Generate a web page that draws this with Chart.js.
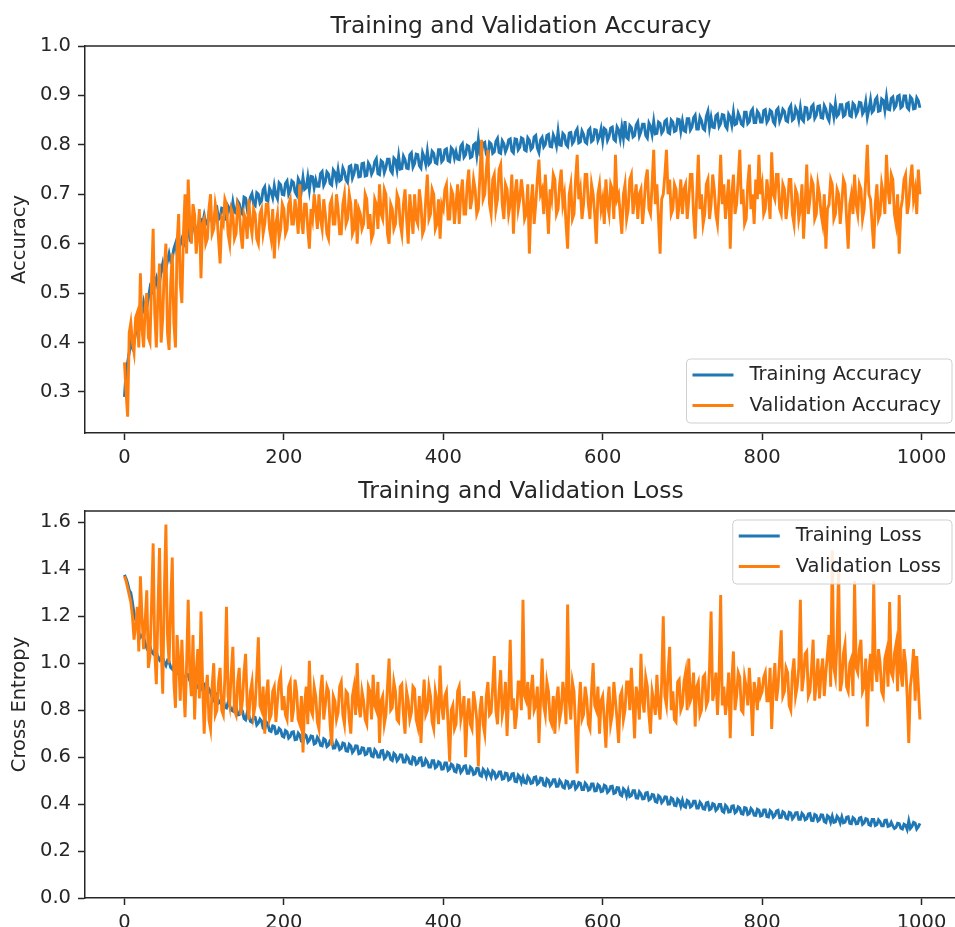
<!DOCTYPE html>
<html>
<head>
<meta charset="utf-8">
<title>Training and Validation Accuracy / Loss</title>
<script src="https://cdn.jsdelivr.net/npm/chart.js@4.4.1/dist/chart.umd.min.js"></script>
<style>
  body { margin: 0; background: #fff; }
  canvas { display: block; }
</style>
</head>
<body>
<canvas id="acc-chart" width="955" height="470"></canvas>
<canvas id="loss-chart" width="955" height="457"></canvas>
<script>
// values, one every 2 epochs (0, 2, ... 998), 50 per row = 100 epochs
const EPOCH_STEP = 2;

const trainAcc = [
  0.29, 0.34, 0.36, 0.38, 0.40, 0.39, 0.40, 0.42, 0.44, 0.43, 0.44, 0.46, 0.48, 0.46, 0.47, 0.49, 0.51, 0.50, 0.50, 0.52, 0.53, 0.51, 0.52, 0.545, 0.56, 0.54, 0.55, 0.565, 0.58, 0.565, 0.57, 0.59, 0.60, 0.58, 0.585, 0.60, 0.61, 0.595, 0.60, 0.62, 0.63, 0.61, 0.615, 0.635, 0.64, 0.625, 0.628, 0.645, 0.648, 0.64,
  0.657, 0.640, 0.639, 0.661, 0.656, 0.644, 0.639, 0.668, 0.672, 0.649, 0.653, 0.672, 0.671, 0.651, 0.649, 0.676, 0.670, 0.660, 0.684, 0.664, 0.662, 0.686, 0.681, 0.664, 0.660, 0.694, 0.692, 0.670, 0.679, 0.694, 0.701, 0.680, 0.677, 0.703, 0.700, 0.682, 0.687, 0.709, 0.715, 0.688, 0.686, 0.712, 0.705, 0.693, 0.717, 0.699, 0.691, 0.723, 0.719, 0.700,
  0.699, 0.722, 0.727, 0.700, 0.708, 0.727, 0.724, 0.705, 0.699, 0.731, 0.724, 0.708, 0.734, 0.710, 0.713, 0.735, 0.709, 0.736, 0.735, 0.713, 0.729, 0.716, 0.716, 0.742, 0.746, 0.718, 0.725, 0.745, 0.741, 0.722, 0.719, 0.749, 0.744, 0.726, 0.749, 0.727, 0.730, 0.753, 0.745, 0.729, 0.724, 0.756, 0.758, 0.733, 0.742, 0.759, 0.758, 0.735, 0.736, 0.762,
  0.763, 0.737, 0.738, 0.763, 0.757, 0.741, 0.748, 0.766, 0.772, 0.742, 0.740, 0.768, 0.765, 0.744, 0.754, 0.771, 0.771, 0.748, 0.743, 0.773, 0.769, 0.750, 0.777, 0.751, 0.752, 0.777, 0.770, 0.753, 0.752, 0.780, 0.784, 0.755, 0.762, 0.781, 0.780, 0.758, 0.753, 0.784, 0.775, 0.761, 0.787, 0.761, 0.765, 0.787, 0.783, 0.764, 0.762, 0.790, 0.790, 0.766,
  0.770, 0.790, 0.792, 0.768, 0.766, 0.794, 0.790, 0.773, 0.786, 0.771, 0.770, 0.797, 0.802, 0.775, 0.780, 0.799, 0.797, 0.774, 0.776, 0.800, 0.803, 0.779, 0.810, 0.782, 0.785, 0.803, 0.805, 0.781, 0.775, 0.805, 0.802, 0.783, 0.786, 0.807, 0.813, 0.785, 0.783, 0.808, 0.802, 0.786, 0.794, 0.810, 0.812, 0.788, 0.784, 0.812, 0.811, 0.790, 0.795, 0.814,
  0.812, 0.790, 0.788, 0.814, 0.809, 0.791, 0.795, 0.816, 0.819, 0.794, 0.785, 0.810, 0.815, 0.796, 0.801, 0.819, 0.821, 0.797, 0.796, 0.820, 0.812, 0.798, 0.827, 0.800, 0.799, 0.823, 0.819, 0.801, 0.797, 0.824, 0.825, 0.803, 0.808, 0.826, 0.832, 0.804, 0.806, 0.828, 0.821, 0.806, 0.803, 0.829, 0.833, 0.807, 0.810, 0.831, 0.830, 0.809, 0.817, 0.832,
  0.808, 0.833, 0.830, 0.809, 0.817, 0.834, 0.836, 0.811, 0.808, 0.836, 0.830, 0.812, 0.836, 0.814, 0.848, 0.815, 0.812, 0.839, 0.835, 0.816, 0.819, 0.840, 0.846, 0.818, 0.827, 0.842, 0.842, 0.819, 0.814, 0.844, 0.837, 0.821, 0.847, 0.822, 0.823, 0.846, 0.843, 0.824, 0.829, 0.848, 0.851, 0.825, 0.823, 0.850, 0.846, 0.827, 0.829, 0.852, 0.851, 0.828,
  0.848, 0.829, 0.827, 0.853, 0.853, 0.830, 0.836, 0.855, 0.860, 0.832, 0.832, 0.856, 0.849, 0.833, 0.830, 0.858, 0.868, 0.835, 0.855, 0.836, 0.835, 0.859, 0.862, 0.837, 0.843, 0.861, 0.860, 0.838, 0.833, 0.862, 0.856, 0.840, 0.866, 0.841, 0.843, 0.864, 0.856, 0.842, 0.839, 0.866, 0.866, 0.843, 0.847, 0.867, 0.872, 0.845, 0.845, 0.868, 0.863, 0.846,
  0.846, 0.869, 0.871, 0.846, 0.852, 0.870, 0.867, 0.847, 0.842, 0.870, 0.874, 0.848, 0.857, 0.872, 0.868, 0.849, 0.847, 0.873, 0.879, 0.850, 0.853, 0.874, 0.867, 0.851, 0.875, 0.852, 0.848, 0.876, 0.875, 0.853, 0.856, 0.877, 0.881, 0.854, 0.860, 0.878, 0.879, 0.855, 0.854, 0.879, 0.872, 0.856, 0.849, 0.880, 0.876, 0.857, 0.883, 0.858, 0.862, 0.881,
  0.881, 0.858, 0.861, 0.883, 0.885, 0.859, 0.857, 0.884, 0.880, 0.861, 0.868, 0.886, 0.885, 0.863, 0.869, 0.887, 0.856, 0.872, 0.891, 0.866, 0.870, 0.891, 0.896, 0.868, 0.869, 0.893, 0.890, 0.870, 0.897, 0.872, 0.871, 0.894, 0.897, 0.874, 0.879, 0.898, 0.900, 0.875, 0.878, 0.899, 0.899, 0.876, 0.872, 0.897, 0.893, 0.873, 0.874, 0.895, 0.889, 0.875
];
const valAcc = [
  0.36, 0.30, 0.25, 0.42, 0.44, 0.40, 0.38, 0.45, 0.46, 0.39, 0.54, 0.43, 0.39, 0.47, 0.50, 0.41, 0.40, 0.52, 0.63, 0.46, 0.39, 0.50, 0.56, 0.40, 0.45, 0.55, 0.60, 0.42, 0.385, 0.52, 0.58, 0.44, 0.39, 0.60, 0.66, 0.52, 0.48, 0.62, 0.70, 0.58, 0.73, 0.64, 0.60, 0.68, 0.66, 0.58, 0.62, 0.67, 0.53, 0.64,
  0.65, 0.60, 0.61, 0.67, 0.70, 0.62, 0.63, 0.68, 0.66, 0.61, 0.56, 0.65, 0.64, 0.69, 0.68, 0.62, 0.60, 0.67, 0.66, 0.61, 0.62, 0.68, 0.67, 0.62, 0.59, 0.66, 0.65, 0.61, 0.69, 0.64, 0.62, 0.67, 0.66, 0.61, 0.60, 0.66, 0.67, 0.62, 0.64, 0.68, 0.68, 0.63, 0.61, 0.67, 0.57, 0.64, 0.66, 0.61, 0.63, 0.68,
  0.67, 0.62, 0.63, 0.68, 0.69, 0.64, 0.64, 0.69, 0.66, 0.62, 0.72, 0.65, 0.62, 0.68, 0.68, 0.63, 0.59, 0.67, 0.65, 0.70, 0.67, 0.63, 0.70, 0.65, 0.63, 0.69, 0.66, 0.62, 0.61, 0.68, 0.69, 0.64, 0.64, 0.70, 0.67, 0.62, 0.62, 0.68, 0.70, 0.64, 0.65, 0.70, 0.68, 0.62, 0.63, 0.69, 0.60, 0.67, 0.66, 0.63,
  0.64, 0.70, 0.69, 0.63, 0.66, 0.61, 0.62, 0.69, 0.68, 0.63, 0.72, 0.66, 0.65, 0.71, 0.70, 0.62, 0.60, 0.68, 0.67, 0.63, 0.64, 0.70, 0.69, 0.64, 0.62, 0.68, 0.71, 0.65, 0.60, 0.70, 0.66, 0.62, 0.70, 0.65, 0.64, 0.71, 0.68, 0.62, 0.63, 0.69, 0.74, 0.65, 0.66, 0.71, 0.70, 0.63, 0.64, 0.69, 0.61, 0.68,
  0.67, 0.71, 0.72, 0.65, 0.65, 0.71, 0.70, 0.64, 0.68, 0.72, 0.64, 0.70, 0.73, 0.66, 0.66, 0.72, 0.75, 0.67, 0.69, 0.73, 0.71, 0.66, 0.67, 0.74, 0.81, 0.69, 0.70, 0.75, 0.79, 0.68, 0.66, 0.73, 0.74, 0.67, 0.69, 0.75, 0.76, 0.68, 0.65, 0.72, 0.71, 0.66, 0.68, 0.74, 0.62, 0.70, 0.73, 0.67, 0.69, 0.73,
  0.70, 0.65, 0.66, 0.72, 0.58, 0.68, 0.72, 0.64, 0.68, 0.73, 0.77, 0.70, 0.71, 0.66, 0.74, 0.68, 0.62, 0.71, 0.69, 0.74, 0.73, 0.66, 0.67, 0.72, 0.75, 0.68, 0.70, 0.64, 0.59, 0.70, 0.72, 0.65, 0.66, 0.73, 0.78, 0.69, 0.71, 0.65, 0.68, 0.74, 0.74, 0.68, 0.65, 0.72, 0.70, 0.66, 0.60, 0.70, 0.72, 0.67,
  0.69, 0.64, 0.73, 0.68, 0.66, 0.72, 0.71, 0.65, 0.78, 0.69, 0.70, 0.66, 0.62, 0.70, 0.72, 0.65, 0.67, 0.73, 0.74, 0.66, 0.69, 0.72, 0.65, 0.70, 0.71, 0.64, 0.68, 0.73, 0.75, 0.67, 0.66, 0.72, 0.79, 0.68, 0.72, 0.65, 0.58, 0.69, 0.70, 0.74, 0.79, 0.70, 0.73, 0.66, 0.67, 0.72, 0.71, 0.65, 0.68, 0.73,
  0.66, 0.71, 0.72, 0.65, 0.69, 0.74, 0.74, 0.66, 0.61, 0.70, 0.78, 0.67, 0.70, 0.64, 0.66, 0.72, 0.73, 0.65, 0.68, 0.74, 0.71, 0.66, 0.64, 0.70, 0.78, 0.68, 0.72, 0.65, 0.69, 0.73, 0.59, 0.70, 0.74, 0.66, 0.68, 0.73, 0.79, 0.68, 0.71, 0.64, 0.65, 0.72, 0.76, 0.67, 0.70, 0.64, 0.73, 0.69, 0.78, 0.70,
  0.72, 0.66, 0.67, 0.73, 0.70, 0.65, 0.785, 0.70, 0.69, 0.74, 0.74, 0.67, 0.66, 0.72, 0.71, 0.65, 0.68, 0.73, 0.73, 0.66, 0.64, 0.71, 0.70, 0.65, 0.67, 0.72, 0.61, 0.68, 0.76, 0.66, 0.69, 0.73, 0.72, 0.65, 0.66, 0.72, 0.70, 0.66, 0.64, 0.70, 0.59, 0.67, 0.68, 0.73, 0.72, 0.65, 0.66, 0.71, 0.70, 0.64,
  0.68, 0.73, 0.72, 0.65, 0.59, 0.68, 0.70, 0.66, 0.74, 0.68, 0.66, 0.72, 0.71, 0.65, 0.67, 0.73, 0.80, 0.70, 0.69, 0.64, 0.59, 0.68, 0.72, 0.65, 0.66, 0.72, 0.70, 0.66, 0.78, 0.71, 0.68, 0.74, 0.73, 0.66, 0.64, 0.70, 0.58, 0.67, 0.69, 0.73, 0.74, 0.66, 0.68, 0.73, 0.76, 0.69, 0.71, 0.66, 0.75, 0.70
];
const trainLoss = [
  1.376, 1.36, 1.34, 1.31, 1.30, 1.26, 1.21, 1.185, 1.175, 1.13, 1.11, 1.118, 1.11, 1.085, 1.065, 1.075, 1.072, 1.048, 1.04, 1.058, 1.05, 1.022, 1.013, 1.03, 1.025, 1.002, 0.99, 1.012, 1.007, 0.982, 0.975, 0.992, 0.99, 0.962, 0.953, 0.972, 0.965, 0.94, 0.931, 0.954, 0.952, 0.925, 0.92, 0.936, 0.935, 0.905, 0.898, 0.914, 0.91, 0.888,
  0.902, 0.872, 0.865, 0.890, 0.878, 0.852, 0.842, 0.872, 0.864, 0.830, 0.834, 0.850, 0.846, 0.812, 0.809, 0.833, 0.820, 0.800, 0.796, 0.822, 0.818, 0.780, 0.781, 0.803, 0.796, 0.765, 0.759, 0.789, 0.777, 0.752, 0.748, 0.773, 0.770, 0.737, 0.745, 0.762, 0.753, 0.723, 0.718, 0.749, 0.739, 0.712, 0.709, 0.733, 0.731, 0.700, 0.702, 0.722, 0.715, 0.690,
  0.686, 0.713, 0.708, 0.681, 0.688, 0.706, 0.708, 0.674, 0.676, 0.702, 0.693, 0.668, 0.665, 0.697, 0.692, 0.664, 0.672, 0.690, 0.688, 0.656, 0.660, 0.684, 0.673, 0.650, 0.648, 0.678, 0.673, 0.645, 0.651, 0.671, 0.673, 0.638, 0.639, 0.666, 0.654, 0.632, 0.637, 0.660, 0.657, 0.627, 0.625, 0.654, 0.647, 0.620, 0.629, 0.648, 0.647, 0.614, 0.617, 0.640,
  0.638, 0.610, 0.613, 0.636, 0.636, 0.605, 0.602, 0.631, 0.622, 0.600, 0.600, 0.626, 0.628, 0.594, 0.601, 0.621, 0.616, 0.590, 0.585, 0.616, 0.609, 0.584, 0.593, 0.610, 0.609, 0.579, 0.579, 0.605, 0.596, 0.574, 0.571, 0.600, 0.597, 0.569, 0.574, 0.595, 0.597, 0.564, 0.566, 0.590, 0.580, 0.558, 0.558, 0.585, 0.585, 0.554, 0.560, 0.580, 0.575, 0.549,
  0.550, 0.575, 0.575, 0.544, 0.550, 0.570, 0.565, 0.540, 0.537, 0.566, 0.563, 0.535, 0.544, 0.561, 0.563, 0.531, 0.531, 0.557, 0.550, 0.526, 0.529, 0.552, 0.551, 0.522, 0.518, 0.548, 0.539, 0.517, 0.542, 0.529, 0.514, 0.541, 0.535, 0.511, 0.518, 0.537, 0.537, 0.506, 0.508, 0.532, 0.530, 0.502, 0.507, 0.528, 0.530, 0.497, 0.495, 0.523, 0.515, 0.493,
  0.515, 0.491, 0.489, 0.517, 0.508, 0.488, 0.490, 0.514, 0.516, 0.485, 0.491, 0.511, 0.509, 0.481, 0.478, 0.507, 0.501, 0.478, 0.486, 0.504, 0.504, 0.475, 0.476, 0.501, 0.491, 0.472, 0.468, 0.498, 0.495, 0.469, 0.473, 0.495, 0.496, 0.465, 0.473, 0.492, 0.489, 0.462, 0.462, 0.489, 0.481, 0.459, 0.463, 0.486, 0.486, 0.456, 0.457, 0.483, 0.477, 0.453,
  0.455, 0.480, 0.476, 0.450, 0.457, 0.475, 0.476, 0.445, 0.448, 0.470, 0.469, 0.440, 0.435, 0.465, 0.458, 0.434, 0.459, 0.432, 0.436, 0.457, 0.457, 0.426, 0.425, 0.452, 0.443, 0.422, 0.423, 0.447, 0.449, 0.417, 0.422, 0.441, 0.439, 0.411, 0.408, 0.436, 0.430, 0.406, 0.414, 0.431, 0.430, 0.400, 0.401, 0.426, 0.421, 0.395, 0.393, 0.421, 0.414, 0.391,
  0.416, 0.390, 0.386, 0.415, 0.410, 0.387, 0.392, 0.412, 0.412, 0.383, 0.383, 0.408, 0.399, 0.380, 0.378, 0.405, 0.407, 0.376, 0.380, 0.402, 0.398, 0.373, 0.380, 0.398, 0.398, 0.370, 0.365, 0.395, 0.388, 0.366, 0.367, 0.391, 0.393, 0.363, 0.369, 0.388, 0.383, 0.359, 0.357, 0.385, 0.383, 0.356, 0.360, 0.381, 0.373, 0.353, 0.352, 0.378, 0.374, 0.349,
  0.352, 0.375, 0.375, 0.347, 0.345, 0.372, 0.365, 0.344, 0.351, 0.370, 0.373, 0.342, 0.343, 0.368, 0.363, 0.340, 0.337, 0.365, 0.362, 0.337, 0.346, 0.363, 0.364, 0.335, 0.335, 0.361, 0.353, 0.333, 0.337, 0.358, 0.360, 0.330, 0.329, 0.356, 0.352, 0.328, 0.334, 0.354, 0.353, 0.326, 0.322, 0.351, 0.345, 0.323, 0.348, 0.322, 0.324, 0.348, 0.339, 0.320,
  0.345, 0.320, 0.323, 0.344, 0.346, 0.318, 0.316, 0.342, 0.336, 0.316, 0.317, 0.340, 0.343, 0.314, 0.320, 0.338, 0.335, 0.312, 0.309, 0.335, 0.335, 0.309, 0.313, 0.333, 0.325, 0.307, 0.307, 0.331, 0.332, 0.305, 0.307, 0.322, 0.307, 0.296, 0.301, 0.318, 0.316, 0.297, 0.294, 0.314, 0.310, 0.292, 0.328, 0.296, 0.304, 0.322, 0.318, 0.294, 0.303, 0.318
];
const valLoss = [
  1.37, 1.35, 1.32, 1.29, 1.26, 1.20, 1.10, 1.16, 1.24, 1.05, 1.37, 1.20, 1.06, 1.18, 1.31, 0.98, 1.03, 1.25, 1.51, 1.05, 0.91, 1.22, 1.49, 1.08, 0.87, 1.30, 1.59, 1.12, 1.00, 1.25, 1.45, 0.92, 0.81, 1.12, 1.02, 0.84, 1.10, 0.92, 0.77, 1.00, 1.27, 0.95, 0.86, 1.12, 0.76, 0.96, 1.06, 0.85, 1.22, 0.92,
  0.70, 0.88, 0.95, 0.76, 0.72, 0.90, 1.00, 0.78, 0.80, 0.92, 0.98, 0.80, 0.78, 0.94, 1.24, 0.86, 0.82, 0.96, 1.07, 0.80, 0.78, 0.92, 0.98, 0.78, 0.84, 0.96, 1.04, 0.82, 0.76, 0.88, 0.92, 0.78, 0.82, 0.95, 1.11, 0.82, 0.80, 0.90, 0.70, 0.86, 0.93, 0.76, 0.78, 0.88, 0.90, 0.75, 0.84, 0.92, 0.95, 0.80,
  0.86, 0.78, 0.76, 0.90, 0.92, 0.75, 0.80, 0.93, 0.88, 0.76, 0.74, 0.86, 0.62, 0.82, 0.90, 0.74, 1.01, 0.80, 0.78, 0.90, 0.86, 0.75, 0.72, 0.88, 0.95, 0.76, 0.82, 0.90, 0.88, 0.74, 0.65, 0.86, 0.84, 0.76, 0.79, 0.90, 0.92, 0.78, 0.74, 0.88, 0.87, 0.76, 0.70, 0.86, 0.90, 0.78, 1.00, 0.82, 0.77, 0.88,
  0.84, 0.76, 0.74, 0.90, 0.88, 0.76, 0.95, 0.82, 0.80, 0.92, 0.66, 0.84, 0.86, 0.74, 0.78, 0.90, 1.02, 0.80, 0.81, 0.92, 0.88, 0.76, 0.75, 0.90, 0.91, 0.78, 0.70, 0.88, 0.84, 0.76, 0.79, 0.90, 0.89, 0.76, 0.73, 0.86, 0.66, 0.82, 0.93, 0.78, 0.80, 0.90, 0.86, 0.75, 0.72, 0.88, 0.84, 0.74, 0.99, 0.82,
  0.76, 0.86, 0.88, 0.74, 0.58, 0.80, 0.82, 0.72, 0.74, 0.88, 0.90, 0.76, 0.80, 0.86, 0.60, 0.78, 0.85, 0.74, 0.72, 0.88, 0.83, 0.76, 0.56, 0.80, 0.86, 0.74, 0.70, 0.86, 0.92, 0.78, 0.79, 0.90, 1.03, 0.80, 0.74, 0.88, 0.97, 0.78, 0.82, 0.92, 0.69, 0.86, 1.10, 0.80, 0.85, 0.72, 0.78, 0.92, 0.92, 0.80,
  1.27, 0.86, 0.84, 0.92, 0.76, 0.88, 0.95, 0.80, 0.82, 0.90, 0.66, 0.84, 1.02, 0.82, 0.78, 0.92, 0.88, 0.76, 0.74, 0.86, 0.70, 0.84, 0.90, 0.76, 0.80, 0.92, 0.86, 0.74, 1.25, 0.84, 0.76, 0.92, 0.88, 0.72, 0.53, 0.80, 0.92, 0.76, 0.78, 0.90, 0.85, 0.74, 0.72, 0.88, 1.00, 0.82, 0.80, 0.90, 0.70, 0.84,
  0.86, 0.76, 0.64, 0.82, 0.90, 0.74, 0.78, 0.92, 0.84, 0.76, 0.66, 0.86, 0.88, 0.76, 0.80, 0.92, 0.92, 0.80, 0.98, 0.84, 0.68, 0.90, 0.86, 0.76, 1.04, 0.84, 0.79, 0.94, 0.90, 0.78, 0.70, 0.88, 0.84, 0.78, 0.95, 0.82, 0.76, 0.92, 1.20, 0.86, 0.82, 0.96, 1.07, 0.80, 0.88, 0.76, 0.75, 0.92, 0.93, 0.80,
  0.82, 0.92, 0.96, 0.80, 1.02, 0.84, 0.86, 0.96, 0.73, 0.90, 0.92, 0.78, 0.80, 0.94, 0.95, 0.82, 0.84, 0.98, 1.22, 0.84, 0.88, 0.96, 0.78, 0.94, 1.29, 0.82, 0.90, 0.78, 0.84, 0.96, 0.68, 0.92, 1.05, 0.80, 0.86, 0.96, 0.94, 0.80, 0.79, 0.94, 0.90, 0.82, 0.98, 0.86, 0.69, 0.92, 0.88, 0.80, 0.94, 0.86,
  0.88, 0.94, 0.96, 0.84, 0.84, 0.98, 0.72, 0.90, 1.00, 0.84, 0.90, 1.02, 1.14, 0.86, 0.88, 0.98, 0.96, 0.82, 0.80, 0.96, 1.02, 0.86, 0.90, 0.98, 1.27, 0.88, 0.94, 1.04, 1.05, 0.86, 0.88, 0.98, 1.10, 0.84, 0.92, 1.02, 0.85, 0.96, 1.02, 0.86, 0.96, 1.04, 1.12, 0.90, 1.48, 0.98, 0.94, 1.10, 1.40, 0.88,
  0.92, 1.04, 1.08, 0.90, 0.88, 1.00, 1.02, 0.86, 1.35, 0.98, 0.96, 1.06, 1.10, 0.88, 0.90, 1.02, 0.73, 0.96, 1.04, 0.88, 1.35, 0.98, 0.92, 1.06, 1.00, 0.88, 0.86, 1.02, 1.05, 0.90, 1.26, 0.96, 0.94, 1.04, 1.08, 0.88, 1.29, 0.96, 0.90, 1.06, 1.00, 0.86, 0.66, 0.90, 0.96, 1.06, 0.84, 1.03, 0.90, 0.76
];

const epochTicks = [0, 200, 400, 600, 800, 1000];
const accTicks = [0.3, 0.4, 0.5, 0.6, 0.7, 0.8, 0.9, 1.0];
const lossTicks = [0.0, 0.2, 0.4, 0.6, 0.8, 1.0, 1.2, 1.4, 1.6];

const BLUE = "#1f77b4";
const ORANGE = "#ff7f0e";
const INK = "#262626";
const FONT = "'DejaVu Sans', sans-serif";
const LABEL_PX = 19.5;
const TITLE_PX = 23.4;
const SPINE = 1.5;

const toPoints = (ys) => ys.map((y, i) => ({ x: i * EPOCH_STEP, y }));

// matplotlib style bits chart.js doesn't do: title over the axes, top spine, legend box
const axesDecor = {
  id: "axesDecor",
  afterDraw(chart, args, opts) {
    const { ctx, chartArea } = chart;
    ctx.save();

    ctx.strokeStyle = INK;
    ctx.lineWidth = SPINE;
    ctx.beginPath();
    ctx.moveTo(chartArea.left, chartArea.top);
    ctx.lineTo(chart.width, chartArea.top);
    ctx.stroke();

    ctx.fillStyle = INK;
    ctx.font = `${TITLE_PX}px ${FONT}`;
    ctx.textAlign = "center";
    ctx.textBaseline = "alphabetic";
    ctx.fillText(opts.title, opts.titleX, opts.titleY);

    ctx.font = `${LABEL_PX}px ${FONT}`;
    const items = chart.data.datasets;
    const textW = Math.max(...items.map((d) => ctx.measureText(d.label).width));
    const w = textW + 74;
    const h = 64;
    const left = opts.legendRight - w;
    const top = opts.legendAt === "upper" ? chartArea.top + 9 : chartArea.bottom - 10 - h;

    ctx.fillStyle = "rgba(255,255,255,0.85)";
    ctx.strokeStyle = "#d0d0d0";
    ctx.lineWidth = 1;
    ctx.beginPath();
    if (ctx.roundRect) ctx.roundRect(left, top, w, h, 4);
    else ctx.rect(left, top, w, h);
    ctx.fill();
    ctx.stroke();

    items.forEach((d, i) => {
      const y = top + 16 + i * 30.5;
      ctx.strokeStyle = d.borderColor;
      ctx.lineWidth = 2.9;
      ctx.beginPath();
      ctx.moveTo(left + 6, y);
      ctx.lineTo(left + 47, y);
      ctx.stroke();
      ctx.fillStyle = INK;
      ctx.textAlign = "left";
      ctx.textBaseline = "middle";
      ctx.fillText(d.label, left + 63, y);
    });
    ctx.restore();
  },
};

function makeChart(id, cfg) {
  return new Chart(document.getElementById(id), {
    type: "line",
    data: {
      datasets: [
        { label: cfg.labels[0], data: toPoints(cfg.train), borderColor: BLUE, order: 2 },
        { label: cfg.labels[1], data: toPoints(cfg.val), borderColor: ORANGE, order: 1 },
      ],
    },
    options: {
      responsive: false,
      animation: false,
      layout: { padding: { top: cfg.padTop, left: 0, right: 0, bottom: 0 } },
      elements: {
        point: { radius: 0 },
        line: { borderWidth: 2.9, tension: 0, fill: false },
      },
      plugins: {
        legend: { display: false },
        tooltip: { enabled: false },
        axesDecor: {
          title: cfg.title,
          titleX: 521,
          titleY: cfg.titleY,
          legendAt: cfg.legendAt,
          legendRight: 952,
        },
      },
      scales: {
        x: {
          type: "linear",
          min: -49.5,
          max: 1042,
          afterBuildTicks: (s) => { s.ticks = epochTicks.map((v) => ({ value: v })); },
          afterFit: (s) => { s.height = cfg.xHeight; },
          ticks: {
            color: INK,
            font: { family: FONT, size: LABEL_PX },
            padding: 6,
            maxRotation: 0,
            autoSkip: false,
            callback: (v) => String(v),
          },
          grid: { drawOnChartArea: false, color: INK, tickLength: 7, tickWidth: SPINE },
          border: { color: INK, width: SPINE },
        },
        y: {
          min: cfg.yMin,
          max: cfg.yMax,
          afterBuildTicks: (s) => { s.ticks = cfg.yTicks.map((v) => ({ value: v })); },
          afterFit: (s) => { s.width = 85; },
          ticks: {
            color: INK,
            font: { family: FONT, size: LABEL_PX },
            padding: 7,
            autoSkip: false,
            callback: (v) => v.toFixed(1),
          },
          grid: { drawOnChartArea: false, color: INK, tickLength: 7, tickWidth: SPINE },
          border: { color: INK, width: SPINE },
          title: {
            display: true,
            text: cfg.yTitle,
            color: INK,
            font: { family: FONT, size: LABEL_PX },
            padding: { top: 8, bottom: 0 },
          },
        },
      },
    },
    plugins: [axesDecor],
  });
}

makeChart("acc-chart", {
  title: "Training and Validation Accuracy",
  titleY: 33,
  labels: ["Training Accuracy", "Validation Accuracy"],
  train: trainAcc,
  val: valAcc,
  yTitle: "Accuracy",
  yMin: 0.217,
  yMax: 1.0,
  yTicks: accTicks,
  padTop: 46,
  xHeight: 37,
  legendAt: "lower",
});

makeChart("loss-chart", {
  title: "Training and Validation Loss",
  titleY: 28,
  labels: ["Training Loss", "Validation Loss"],
  train: trainLoss,
  val: valLoss,
  yTitle: "Cross Entropy",
  yMin: 0,
  yMax: 1.648,
  yTicks: lossTicks,
  padTop: 41,
  xHeight: 29,
  legendAt: "upper",
});
</script>
</body>
</html>
